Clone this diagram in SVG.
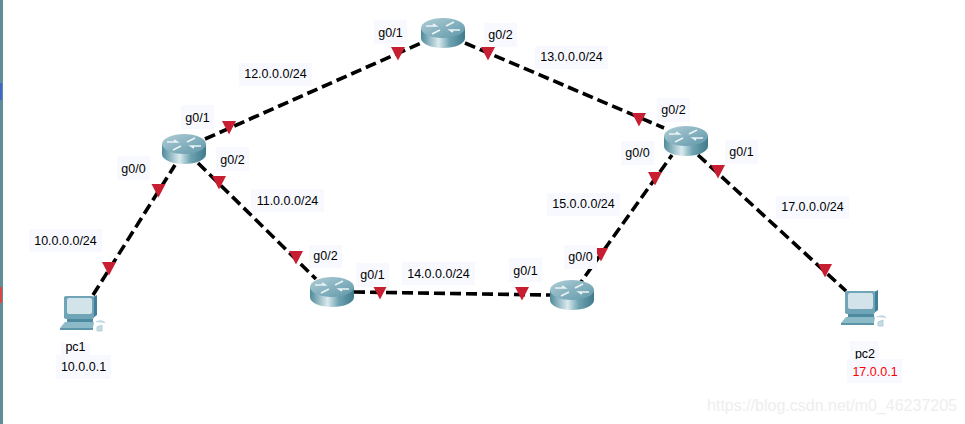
<svg xmlns="http://www.w3.org/2000/svg" xmlns:xlink="http://www.w3.org/1999/xlink" width="965" height="424" viewBox="0 0 965 424">
<style>
text{font-family:"Liberation Sans",Arial,sans-serif;font-size:12.500px;fill:#000;text-anchor:middle}
.bg{fill:#f8f9ff}
.c{fill:none;stroke:#000;stroke-width:3.6;stroke-dasharray:11 5}
.t{fill:#c81e32}
.wm{font-size:16px;fill:#eeeeee;text-anchor:end}
</style>
<defs>
<linearGradient id="rb" x1="0" x2="1" y1="0" y2="0">
<stop offset="0" stop-color="#4f8a9b"/><stop offset=".4" stop-color="#d9eaee"/><stop offset=".65" stop-color="#6fa3b1"/><stop offset="1" stop-color="#3f7a8c"/>
</linearGradient>
<linearGradient id="rt" x1="0" x2="1" y1="0" y2="1">
<stop offset="0" stop-color="#b0ced7"/><stop offset="1" stop-color="#5f97a8"/>
</linearGradient>
<g id="router">
<path d="M-22-5V5C-22 11-12 15 0 15S22 11 22 5V-5Z" fill="url(#rb)"/>
<ellipse cx="0" cy="-5" rx="22" ry="10" fill="url(#rt)"/>
<path d="M-17-7H-7L-10-9M17-3H7L10-1M-11 1L-3-3M11-11L3-7" fill="none" stroke="#eaf3f5" stroke-width="1.600"/>
</g>
<g id="pc">
<path d="M4 2H33L37 0V20L33 23H4Z" fill="#3f8096"/>
<rect x="4" y="1" width="30" height="23" rx="2" fill="#6fa5b7"/>
<rect x="7" y="3" width="25" height="16" rx="2" fill="#d2e3ea"/>
<path d="M7 24H33V27H7Z" fill="#4f8ba0"/>
<path d="M5 27H34L33 33H0Z" fill="#8dbac9"/>
<path d="M0 33H33V35H0Z" fill="#5d96a8"/>
<path d="M36 27C40 25 44 26 45 28M37 32L42 30V36H37Z" fill="#c4dbe3" stroke="#b5d0da"/>
</g>
<path id="tri" class="t" d="M-7 0H7L0 13.500Z"/>
</defs>
<rect width="965" height="424" fill="#fff"/>
<g id="edge-strip">
<rect x="0" width="3" height="424" fill="#5f8e96"/>
<rect x="0" y="83" width="2" height="17" fill="#3f68c8"/>
<rect x="0" y="287" width="2" height="16" fill="#d84848"/>
</g>
<g id="connectors">
<line class="c" x1="93" y1="295" x2="175" y2="165"/>
<line class="c" x1="205" y1="139" x2="421" y2="43"/>
<line class="c" x1="198" y1="163" x2="316" y2="279"/>
<line class="c" x1="465" y1="43" x2="664" y2="128"/>
<line class="c" x1="354" y1="292" x2="550" y2="295"/>
<line class="c" x1="576" y1="289" x2="672" y2="155"/>
<line class="c" x1="698" y1="155" x2="846" y2="291"/>
<use href="#tri" x="158.500" y="184"/>
<use href="#tri" x="109" y="262"/>
<use href="#tri" x="229" y="121"/>
<use href="#tri" x="219" y="176"/>
<use href="#tri" x="398" y="47"/>
<use href="#tri" x="488" y="47"/>
<use href="#tri" x="639" y="113"/>
<use href="#tri" x="655" y="172"/>
<use href="#tri" x="718" y="165"/>
<use href="#tri" x="825" y="264"/>
<use href="#tri" x="296" y="251"/>
<use href="#tri" x="380" y="286"/>
<use href="#tri" x="522" y="287"/>
<use href="#tri" x="601" y="248"/>
</g>
<g id="router-top"><use href="#router" x="443" y="33"/></g>
<g id="router-left"><use href="#router" x="184" y="149"/></g>
<g id="router-right"><use href="#router" x="686" y="141"/></g>
<g id="router-bottom-left"><use href="#router" x="332" y="292"/></g>
<g id="router-bottom-right"><use href="#router" x="572" y="295"/></g>
<g id="pc1"><use href="#pc" x="60" y="295"/></g>
<g id="pc2"><use href="#pc" x="841" y="290"/></g>
<g id="labels">
<rect class="bg" x="374" y="20" width="33" height="24"/><text x="390.500" y="37">g0/1</text>
<rect class="bg" x="484" y="23" width="33" height="24"/><text x="500.500" y="39">g0/2</text>
<rect class="bg" x="239" y="63" width="73" height="23"/><text x="275.500" y="78">12.0.0.0/24</text>
<rect class="bg" x="535" y="46" width="73" height="23"/><text x="571.500" y="61">13.0.0.0/24</text>
<rect class="bg" x="181" y="105" width="33" height="24"/><text x="197.500" y="122">g0/1</text>
<rect class="bg" x="216" y="147" width="33" height="24"/><text x="232.500" y="164">g0/2</text>
<rect class="bg" x="117" y="156" width="33" height="24"/><text x="133.500" y="173">g0/0</text>
<rect class="bg" x="29" y="229" width="73" height="23"/><text x="65.500" y="245">10.0.0.0/24</text>
<rect class="bg" x="251" y="189" width="73" height="23"/><text x="287.500" y="205">11.0.0.0/24</text>
<rect class="bg" x="309" y="245" width="33" height="23"/><text x="325.500" y="260">g0/2</text>
<rect class="bg" x="356" y="263" width="33" height="24"/><text x="372.500" y="279">g0/1</text>
<rect class="bg" x="402" y="262" width="73" height="23"/><text x="438.500" y="278">14.0.0.0/24</text>
<rect class="bg" x="509" y="258" width="33" height="24"/><text x="525.500" y="275">g0/1</text>
<rect class="bg" x="564" y="245" width="33" height="24"/><text x="580.500" y="261">g0/0</text>
<rect class="bg" x="547" y="193" width="73" height="23"/><text x="583.500" y="208">15.0.0.0/24</text>
<rect class="bg" x="621" y="141" width="33" height="24"/><text x="637.500" y="157">g0/0</text>
<rect class="bg" x="657" y="98" width="33" height="24"/><text x="673.500" y="114">g0/2</text>
<rect class="bg" x="725" y="140" width="33" height="24"/><text x="741.500" y="156">g0/1</text>
<rect class="bg" x="776" y="196" width="73" height="23"/><text x="812.500" y="211">17.0.0.0/24</text>
<rect class="bg" x="61" y="343" width="29" height="23"/><text x="75.500" y="351">pc1</text>
<rect class="bg" x="56" y="355" width="55" height="24"/><text x="83.500" y="371">10.0.0.1</text>
<rect class="bg" x="850" y="341" width="29" height="20"/><text x="865" y="358">pc2</text>
<rect class="bg" x="847" y="359" width="55" height="24"/><text x="875" y="376" style="fill:#f00">17.0.0.1</text>
</g>
<text class="wm" x="957" y="411">https://blog.csdn.net/m0_46237205</text>
</svg>
